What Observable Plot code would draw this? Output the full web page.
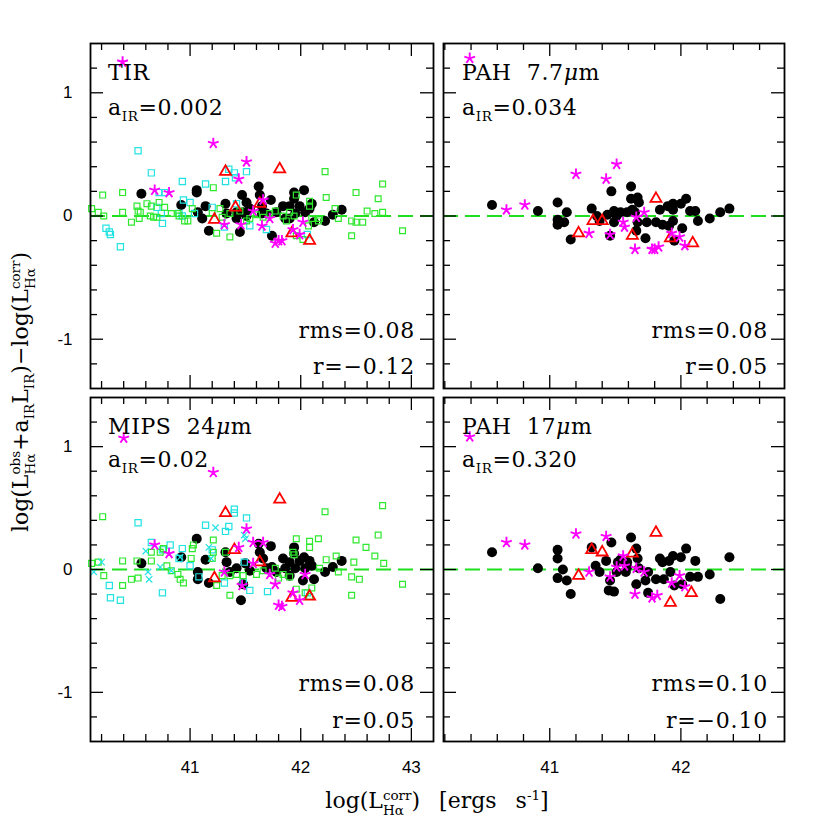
<!DOCTYPE html>
<html><head><meta charset="utf-8">
<script src="https://cdn.jsdelivr.net/npm/d3@7"></script>
<script src="https://cdn.jsdelivr.net/npm/@observablehq/plot@0.6"></script>
<style>
body{margin:0;background:#fff;}
#wrap{position:relative;width:830px;height:830px;background:#fff;overflow:hidden;}
#wrap svg.plotpanel{position:absolute;}
#overlay{position:absolute;left:0;top:0;pointer-events:none;}
</style></head>
<body><div id="wrap"></div>
<script>
// ---------------- data (x = log L_Ha^corr, y = residual) ----------------
const panelNames = [["TIR",""], ["PAH  7.7","\u03bc"], ["MIPS  24","\u03bc"], ["PAH  17","\u03bc"]];
const aIRValues = ["0.002", "0.034", "0.02", "0.320"];
const rmsValues = ["0.08", "0.08", "0.08", "0.10"];
const rValues = ["\u22120.12", "0.05", "0.05", "\u22120.10"];
const xTickLabelsLeft = [41, 42, 43];
const xTickLabelsRight = [41, 42];
const yTickLabels = [-1, 0, 1];

const tirBlack = [[40.56,0.18],[40.92,0.09],[41.06,0.21],[41.06,0.19],[41.07,0.03],[41.11,-0.02],[41.14,0.08],[41.17,-0.12],[41.32,0.10],[41.33,0.02],[41.42,0.03],[41.45,-0.13],[41.47,0.17],[41.48,0.03],[41.51,0.00],[41.54,0.06],[41.62,0.24],[41.63,0.17],[41.65,0.08],[41.65,0.02],[41.69,0.02],[41.73,0.13],[41.74,-0.16],[41.78,0.03],[41.84,0.08],[41.86,-0.02],[41.90,0.08],[41.94,0.19],[41.94,0.14],[41.95,0.02],[41.99,0.08],[42.03,0.21],[42.04,0.03],[42.08,0.06],[42.10,0.10],[42.12,-0.05],[42.22,-0.04],[42.29,0.01],[42.37,0.05],[41.90,-0.02],[41.51,0.11],[41.42,-0.02]];
const tirStar = [[40.39,1.25],[41.21,0.59],[41.51,0.44],[41.44,0.30],[40.68,0.21],[40.81,0.19],[41.66,0.13],[41.57,0.04],[41.31,-0.07],[41.46,-0.07],[41.65,-0.08],[41.72,-0.02],[41.80,-0.20],[41.83,-0.20],[41.77,-0.22],[41.93,-0.11],[41.99,-0.15],[42.02,-0.05]];
const tirTri = [[41.32,0.36],[41.81,0.38],[41.41,0.07],[41.63,0.10],[41.22,-0.03],[41.92,-0.14],[42.08,-0.20]];
const tirCyan = [[40.53,0.53],[40.65,0.35],[40.93,0.28],[41.14,0.26],[40.94,0.13],[41.00,0.11],[40.72,0.19],[40.77,0.19],[40.70,0.07],[40.74,0.02],[40.75,-0.06],[40.24,-0.10],[40.27,-0.13],[40.28,-0.15],[40.37,-0.25],[40.90,0.02],[40.93,0.00],[41.04,0.02],[41.20,0.07],[41.32,0.28],[41.35,0.38],[41.40,0.35],[41.41,0.31],[41.51,0.36],[41.42,0.10],[41.31,-0.09],[41.54,-0.08],[41.69,-0.11],[42.06,-0.15]];
const tirGreen = [[40.11,0.06],[40.17,0.03],[40.21,0.17],[40.22,0.00],[40.39,0.19],[40.39,0.03],[40.47,-0.05],[40.52,0.08],[40.53,0.04],[40.55,0.03],[40.54,-0.02],[40.61,0.10],[40.65,0.08],[40.64,0.00],[40.67,-0.01],[40.70,-0.01],[40.72,0.11],[40.77,0.07],[40.83,0.02],[40.89,0.02],[40.90,0.00],[40.95,-0.04],[40.98,-0.04],[41.02,0.06],[41.21,0.23],[41.20,0.02],[41.24,-0.14],[41.27,0.06],[41.29,-0.01],[41.36,-0.17],[41.36,0.02],[41.45,0.04],[41.51,-0.04],[41.72,0.02],[41.77,0.04],[41.84,0.00],[41.90,0.03],[41.96,0.17],[41.94,0.00],[42.08,0.12],[42.08,0.08],[42.10,-0.02],[42.16,-0.04],[42.22,0.36],[42.23,0.15],[42.31,0.06],[42.34,-0.02],[42.46,-0.04],[42.50,0.19],[42.50,-0.05],[42.56,-0.05],[42.46,-0.16],[42.60,0.04],[42.67,0.02],[42.70,0.14],[42.74,0.26],[42.74,0.03],[42.92,-0.12],[41.96,-0.16],[42.02,-0.19],[42.07,-0.08],[42.17,-0.02],[41.87,-0.04],[41.54,-0.02],[41.60,0.01],[41.66,-0.01]];

const pah77Black = [[40.56,0.09],[40.91,0.04],[41.06,0.11],[41.06,-0.03],[41.06,-0.07],[41.11,-0.05],[41.13,0.03],[41.16,-0.19],[41.32,0.06],[41.36,0.00],[41.38,-0.04],[41.44,0.01],[41.47,0.20],[41.46,-0.16],[41.49,0.04],[41.49,-0.05],[41.51,0.00],[41.54,0.03],[41.62,0.24],[41.62,0.14],[41.63,0.05],[41.67,0.15],[41.67,-0.05],[41.66,-0.12],[41.68,0.11],[41.73,-0.18],[41.74,-0.05],[41.81,-0.05],[41.84,0.05],[41.86,-0.07],[41.90,0.08],[41.91,-0.08],[41.94,0.10],[41.94,0.05],[41.94,-0.04],[41.95,-0.20],[42.00,0.10],[42.01,-0.10],[42.04,0.14],[42.07,0.04],[42.11,0.04],[42.13,-0.04],[42.22,-0.02],[42.30,0.03],[42.37,0.06],[41.59,0.03],[41.65,0.03]];
const pah77Star = [[40.39,1.28],[40.67,0.05],[40.81,0.09],[41.20,0.34],[41.43,0.30],[41.51,0.42],[41.30,-0.14],[41.46,-0.15],[41.56,-0.05],[41.57,-0.09],[41.66,-0.01],[41.72,0.03],[41.65,-0.27],[41.78,-0.27],[41.80,-0.27],[41.83,-0.25],[41.93,-0.14],[41.99,-0.17],[42.03,-0.24]];
const pah77Tri = [[41.81,0.14],[41.33,-0.04],[41.40,-0.04],[41.22,-0.14],[41.63,-0.16],[41.92,-0.18],[42.09,-0.22]];

const mipsBlack = [[40.56,0.05],[40.92,0.10],[41.06,0.25],[41.07,-0.02],[41.07,-0.08],[41.14,0.08],[41.17,-0.11],[41.32,0.14],[41.33,0.06],[41.36,-0.02],[41.42,0.01],[41.46,-0.25],[41.48,-0.12],[41.50,0.05],[41.54,-0.01],[41.62,0.21],[41.63,0.14],[41.66,0.09],[41.69,0.01],[41.73,0.19],[41.74,0.02],[41.78,-0.02],[41.84,0.09],[41.86,0.01],[41.90,0.06],[41.94,0.18],[41.94,0.13],[41.95,0.01],[41.99,0.07],[42.03,0.10],[42.04,0.01],[42.02,-0.09],[42.08,0.07],[42.10,0.03],[42.12,-0.08],[42.22,-0.02],[42.29,0.02],[42.37,0.07],[41.90,-0.05]];
const mipsStar = [[40.40,1.07],[41.21,0.79],[41.51,0.33],[41.57,0.22],[41.66,0.22],[41.44,0.18],[40.68,0.20],[40.81,0.13],[41.57,0.05],[41.31,-0.02],[41.47,-0.13],[41.72,-0.04],[41.77,-0.12],[41.80,-0.29],[41.83,-0.30],[41.93,-0.19],[41.99,-0.25],[42.04,-0.04]];
const mipsTri = [[41.32,0.46],[41.81,0.57],[41.40,0.16],[41.63,0.06],[41.22,-0.07],[41.92,-0.23],[42.08,-0.22]];
const mipsCyan = [[40.53,0.38],[40.65,0.22],[40.82,0.20],[40.93,0.17],[40.75,0.16],[41.14,0.36],[41.40,0.49],[41.40,0.46],[41.51,0.42],[41.35,0.35],[41.32,0.31],[41.20,0.16],[41.00,0.03],[40.27,-0.13],[40.28,-0.23],[40.37,-0.25],[40.75,-0.19],[40.90,0.09],[41.08,-0.06],[41.31,-0.11],[41.54,-0.17],[41.70,-0.18],[42.06,-0.19],[41.49,0.06],[41.48,-0.10]];
const mipsCyanX = [[41.23,0.34],[41.49,0.28],[41.50,0.25],[41.17,0.18],[40.60,0.15],[40.91,0.10],[41.19,0.09],[40.73,0.02],[40.83,-0.01],[40.62,-0.02],[40.63,-0.08],[40.20,0.06],[40.13,-0.02]];
const mipsGreen = [[40.21,0.43],[40.39,0.07],[40.17,0.06],[40.11,0.05],[40.22,-0.05],[40.39,-0.13],[40.47,-0.08],[40.53,-0.07],[40.52,0.07],[40.65,0.14],[40.65,0.07],[40.73,0.14],[40.76,0.17],[40.79,0.03],[40.83,-0.01],[40.89,-0.04],[40.91,-0.08],[40.94,-0.11],[41.02,0.17],[41.03,0.20],[41.01,0.09],[41.21,0.24],[41.21,0.14],[41.20,0.09],[41.24,-0.13],[41.36,-0.21],[41.32,0.14],[41.29,-0.05],[41.36,-0.05],[41.42,-0.04],[41.48,-0.05],[41.60,-0.04],[41.66,-0.01],[41.77,0.01],[41.84,-0.04],[41.94,0.12],[41.96,0.25],[41.93,0.14],[42.08,0.23],[42.08,0.18],[42.16,0.25],[42.22,0.47],[42.23,0.08],[42.32,0.11],[42.34,-0.02],[42.46,-0.06],[42.48,0.06],[42.50,0.24],[42.53,-0.08],[42.46,-0.21],[42.59,0.18],[42.67,0.11],[42.70,0.28],[42.74,0.52],[42.75,0.05],[42.92,-0.12],[41.96,-0.16],[42.04,-0.19],[42.10,-0.15],[42.08,-0.22],[42.17,0.01],[41.90,-0.06],[41.80,-0.07]];

const pah17Black = [[40.56,0.14],[40.91,0.01],[41.06,0.16],[41.06,0.09],[41.06,-0.07],[41.10,0.00],[41.13,-0.09],[41.16,-0.20],[41.32,0.18],[41.35,0.03],[41.38,-0.02],[41.43,0.07],[41.47,0.22],[41.46,-0.09],[41.45,-0.17],[41.49,-0.18],[41.51,-0.02],[41.52,0.06],[41.54,0.08],[41.62,0.26],[41.59,0.02],[41.66,0.17],[41.66,-0.12],[41.67,0.09],[41.68,0.01],[41.73,-0.09],[41.75,-0.19],[41.81,-0.08],[41.84,0.09],[41.86,0.06],[41.87,-0.08],[41.91,0.07],[41.92,-0.02],[41.94,0.11],[41.95,-0.13],[42.00,0.10],[42.01,-0.12],[42.04,0.17],[42.07,-0.06],[42.11,0.07],[42.13,-0.06],[42.22,-0.04],[42.30,-0.24],[42.37,0.10],[41.75,-0.02],[41.59,0.06],[41.58,-0.02]];
const pah17Star = [[40.39,1.08],[40.67,0.22],[40.81,0.20],[41.20,0.29],[41.43,0.27],[41.30,-0.02],[41.46,-0.06],[41.51,0.02],[41.56,0.11],[41.57,0.03],[41.66,0.01],[41.72,-0.02],[41.65,-0.20],[41.78,-0.23],[41.82,-0.21],[41.93,-0.11],[41.99,-0.05],[42.03,-0.14]];
const pah17Tri = [[41.81,0.30],[41.32,0.16],[41.40,0.14],[41.63,0.13],[41.22,-0.05],[41.92,-0.27],[42.08,-0.19]];

// ---------------- layout ----------------
const M = 45;
const leftDomain = [40.1, 43.2], rightDomain = [40.19, 42.79], yDomain = [-1.4, 1.4];
const panels = [
  {box:[90,43,343,345], xd:leftDomain, black:tirBlack, star:tirStar, tri:tirTri, cyan:tirCyan, green:tirGreen, cyanX:[], yAxis:true, xAxis:false, xt:xTickLabelsLeft},
  {box:[443,43,341,345], xd:rightDomain, black:pah77Black, star:pah77Star, tri:pah77Tri, cyan:[], green:[], cyanX:[], yAxis:false, xAxis:false, xt:xTickLabelsRight},
  {box:[90,397,343,344], xd:leftDomain, black:mipsBlack, star:mipsStar, tri:mipsTri, cyan:mipsCyan, green:mipsGreen, cyanX:mipsCyanX, yAxis:true, xAxis:true, xt:xTickLabelsLeft},
  {box:[443,397,341,344], xd:rightDomain, black:pah17Black, star:pah17Star, tri:pah17Tri, cyan:[], green:[], cyanX:[], yAxis:false, xAxis:true, xt:xTickLabelsRight}
];

const star5 = {draw(ctx, size){ const r = Math.sqrt(size/Math.PI)*1.05; for(let k=0;k<5;k++){const a=-Math.PI/2+k*2*Math.PI/5; ctx.moveTo(0,0); ctx.lineTo(r*Math.cos(a), r*Math.sin(a));} }};
const X = d => d[0], Y = d => d[1];
function ticksIn(dom, step){ const out=[]; for(let i=Math.ceil(dom[0]/step-1e-6); i*step<=dom[1]+1e-9; i++){ const v=+(i*step).toFixed(6); if(v>dom[0]+1e-6 && v<dom[1]-1e-6) out.push(v);} return out; }

const wrap = document.getElementById("wrap");
panels.forEach(p => {
  const [bx,by,bw,bh] = p.box;
  const xMinor = ticksIn(p.xd, 0.2).filter(v => Math.abs(v-Math.round(v))>1e-6);
  const xMajor = ticksIn(p.xd, 1);
  const yMinor = ticksIn(yDomain, 0.2).filter(v => Math.abs(v-Math.round(v))>1e-6);
  const yMajor = ticksIn(yDomain, 1);
  const minL = 7, majL = 13, tw = 1.3;
  const marks = [
    Plot.ruleY([0], {stroke:"#1ee01e", strokeWidth:2, strokeDasharray:"15,7"}),
    Plot.dot(p.black, {x:X, y:Y, r:5, fill:"black"}),
    Plot.dot(p.cyan, {x:X, y:Y, symbol:"square", r:3.5, stroke:"#22e2e2", strokeWidth:1.2, fill:"none"}),
    Plot.dot(p.green, {x:X, y:Y, symbol:"square", r:3.3, stroke:"#2ee82e", strokeWidth:1.2, fill:"none"}),
    Plot.dot(p.cyanX, {x:X, y:Y, symbol:"times", r:3, stroke:"#22e2e2", strokeWidth:1.2}),
    Plot.dot(p.tri, {x:X, y:Y, symbol:"triangle", r:4.1, stroke:"#ff0000", strokeWidth:1.8, fill:"none"}),
    Plot.dot(p.star, {x:X, y:Y, symbol:star5, r:5.4, stroke:"#ff00ff", strokeWidth:1.9}),
    Plot.tickX(xMinor, {x:d=>d, insetTop:bh-minL, stroke:"black", strokeWidth:tw}),
    Plot.tickX(xMinor, {x:d=>d, insetBottom:bh-minL, stroke:"black", strokeWidth:tw}),
    Plot.tickX(xMajor, {x:d=>d, insetTop:bh-majL, stroke:"black", strokeWidth:tw}),
    Plot.tickX(xMajor, {x:d=>d, insetBottom:bh-majL, stroke:"black", strokeWidth:tw}),
    Plot.tickY(yMinor, {y:d=>d, insetRight:bw-minL, stroke:"black", strokeWidth:tw}),
    Plot.tickY(yMinor, {y:d=>d, insetLeft:bw-minL, stroke:"black", strokeWidth:tw}),
    Plot.tickY(yMajor, {y:d=>d, insetRight:bw-majL, stroke:"black", strokeWidth:tw}),
    Plot.tickY(yMajor, {y:d=>d, insetLeft:bw-majL, stroke:"black", strokeWidth:tw}),
    Plot.frame({stroke:"black", strokeWidth:1.8})
  ];
  if (p.yAxis) marks.push(Plot.axisY({ticks:yTickLabels, anchor:"left", tickSize:0, tickPadding:18, tickFormat:d=>String(d), fontSize:17, fill:"black"}));
  if (p.xAxis) marks.push(Plot.axisX({ticks:p.xt, anchor:"bottom", tickSize:0, tickPadding:19, tickFormat:d=>String(d), fontSize:17, fill:"black"}));
  const svg = Plot.plot({
    width: bw+2*M, height: bh+2*M,
    marginLeft:M, marginRight:M, marginTop:M, marginBottom:M,
    x:{domain:p.xd, axis:null}, y:{domain:yDomain, axis:null},
    style:{background:"transparent", fontFamily:"'Liberation Sans', Arial, sans-serif", fontSize:"17px", color:"black", overflow:"visible"},
    marks
  });
  svg.classList.add("plotpanel");
  svg.style.left = (bx-M)+"px"; svg.style.top = (by-M)+"px";
  wrap.appendChild(svg);
});

// ---------------- text overlay ----------------
const ov = d3.select(wrap).append("svg").attr("id","overlay").attr("width",830).attr("height",830);
const SERIF = "'DejaVu Serif', 'Liberation Serif', serif";
const FS = 22, SS = 13.5;
const annPos = [
  {lx:108, ty:80, ay:115, rx:415, rmsY:338, rY:374},
  {lx:462, ty:80, ay:115, rx:768, rmsY:338, rY:374},
  {lx:108, ty:434, ay:467, rx:415, rmsY:691, rY:728},
  {lx:462, ty:434, ay:467, rx:768, rmsY:691, rY:728}
];
annPos.forEach((a,i) => {
  const nt = ov.append("text").attr("x",a.lx).attr("y",a.ty).attr("font-family",SERIF).attr("font-size",FS).attr("letter-spacing",0.6).style("white-space","pre");
  nt.append("tspan").text(panelNames[i][0]);
  if (panelNames[i][1]) { nt.append("tspan").attr("font-style","italic").text(panelNames[i][1]); nt.append("tspan").text("m"); }
  const t = ov.append("text").attr("x",a.lx).attr("y",a.ay).attr("font-family",SERIF).attr("font-size",FS).attr("letter-spacing",0.6);
  t.append("tspan").text("a");
  t.append("tspan").attr("font-size",SS).attr("dy",6).text("IR");
  t.append("tspan").attr("dy",-6).text("=" + aIRValues[i]);
  ov.append("text").attr("x",a.rx).attr("y",a.rmsY).attr("text-anchor","end").attr("font-family",SERIF).attr("font-size",FS).attr("letter-spacing",0.8).text("rms=" + rmsValues[i]);
  ov.append("text").attr("x",a.rx).attr("y",a.rY).attr("text-anchor","end").attr("font-family",SERIF).attr("font-size",FS).attr("letter-spacing",0.8).text("r=" + rValues[i]);
});

function stack(t, sup, sub){
  const up = 8, down = 7;
  const s1 = t.append("tspan").attr("font-size",SS).attr("dy",-up).text(sup);
  const w1 = s1.node().getComputedTextLength();
  const s2 = t.append("tspan").attr("font-size",SS).attr("dx",-w1).attr("dy",up+down).text(sub);
  const w2 = s2.node().getComputedTextLength();
  return {back: -down, extra: Math.max(0, w1-w2)};
}
function rich(t, parts){
  let pendingDy = 0, pendingDx = 0;
  parts.forEach(part => {
    if (typeof part === "string") {
      t.append("tspan").attr("font-size",FS).attr("dy",pendingDy).attr("dx",pendingDx).text(part);
      pendingDy = 0; pendingDx = 0;
    } else if (part.stack) {
      const r = stack(t, part.stack[0], part.stack[1]); pendingDy = r.back; pendingDx = r.extra;
    } else if (part.sub) {
      t.append("tspan").attr("font-size",SS).attr("dy",6).text(part.sub); pendingDy = -6;
    } else if (part.sup) {
      t.append("tspan").attr("font-size",SS).attr("dy",-8).text(part.sup); pendingDy = 8;
    }
  });
}
const xt = ov.append("text").attr("x",437).attr("y",808).attr("text-anchor","middle").attr("font-family",SERIF).attr("font-size",FS).attr("word-spacing",12).style("white-space","pre");
rich(xt, ["log(L", {stack:["corr","H\u03b1"]}, ") [ergs s", {sup:"-1"}, "]"]);
const yt = ov.append("text").attr("transform","translate(28,392) rotate(-90)").attr("text-anchor","middle").attr("font-family",SERIF).attr("font-size",FS);
rich(yt, ["log(L", {stack:["obs","H\u03b1"]}, "+a", {sub:"IR"}, "L", {sub:"IR"}, ")\u2212log(L", {stack:["corr","H\u03b1"]}, ")"]);
</script>
</body></html>
